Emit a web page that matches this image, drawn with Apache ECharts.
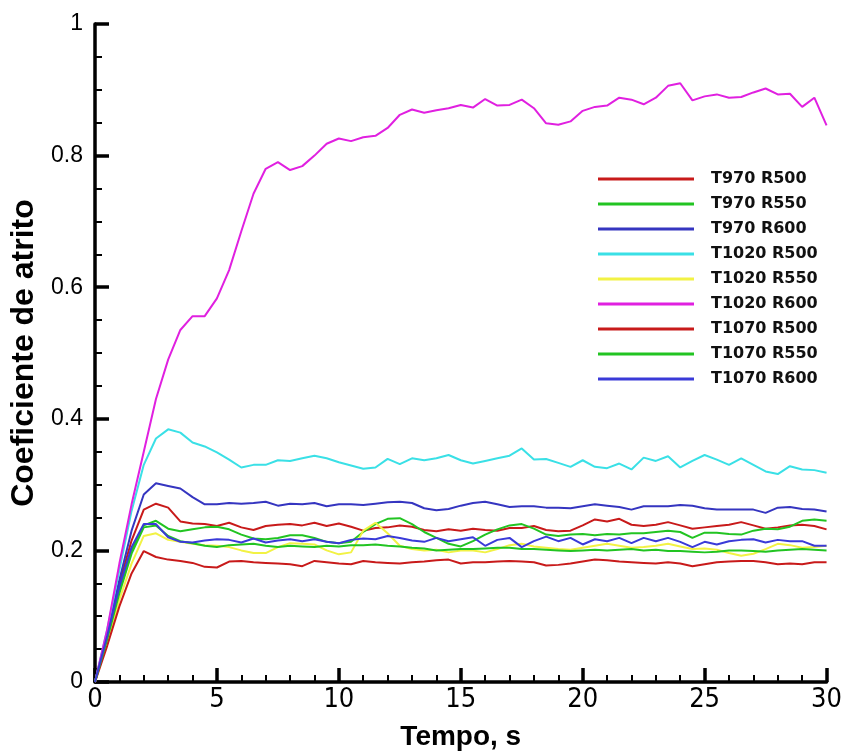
<!DOCTYPE html>
<html>
<head>
<meta charset="utf-8">
<script src="https://cdn.jsdelivr.net/npm/echarts@6/dist/echarts.min.js"></script>
<style>
html,body{margin:0;padding:0;background:#fff;}
#chart{width:845px;height:756px;}
</style>
</head>
<body>
<div id="chart"></div>
<script>
const time = [0,0.5,1,1.5,2,2.5,3,3.5,4,4.5,5,5.5,6,6.5,7,7.5,8,8.5,9,9.5,10,10.5,11,11.5,12,12.5,13,13.5,14,14.5,15,15.5,16,16.5,17,17.5,18,18.5,19,19.5,20,20.5,21,21.5,22,22.5,23,23.5,24,24.5,25,25.5,26,26.5,27,27.5,28,28.5,29,29.5,30];

const seriesNames = ['T970 R500','T970 R550','T970 R600','T1020 R500','T1020 R550','T1020 R600','T1070 R500','T1070 R550','T1070 R600'];

const T970_R500 = [0,0.07,0.15,0.215,0.262,0.271,0.265,0.244,0.241,0.24,0.237,0.242,0.235,0.231,0.237,0.239,0.24,0.238,0.242,0.237,0.241,0.236,0.23,0.234,0.235,0.238,0.236,0.231,0.229,0.232,0.23,0.233,0.231,0.23,0.234,0.234,0.237,0.231,0.229,0.23,0.238,0.247,0.244,0.248,0.239,0.237,0.239,0.243,0.238,0.233,0.235,0.237,0.239,0.243,0.238,0.233,0.235,0.238,0.239,0.237,0.232];

const T970_R550 = [0,0.065,0.14,0.2,0.238,0.245,0.233,0.229,0.232,0.235,0.236,0.232,0.224,0.218,0.217,0.219,0.223,0.223,0.219,0.213,0.211,0.213,0.228,0.24,0.248,0.249,0.24,0.228,0.219,0.21,0.206,0.214,0.224,0.232,0.238,0.24,0.233,0.224,0.222,0.224,0.225,0.223,0.225,0.224,0.226,0.226,0.228,0.23,0.228,0.219,0.227,0.227,0.225,0.224,0.23,0.233,0.232,0.236,0.245,0.247,0.245];

const T970_R600 = [0,0.075,0.155,0.23,0.285,0.302,0.298,0.294,0.281,0.27,0.27,0.272,0.271,0.272,0.274,0.268,0.271,0.27,0.272,0.267,0.27,0.27,0.269,0.271,0.273,0.274,0.272,0.264,0.261,0.263,0.268,0.272,0.274,0.27,0.266,0.267,0.267,0.265,0.265,0.264,0.267,0.27,0.268,0.266,0.262,0.267,0.267,0.267,0.269,0.268,0.264,0.262,0.262,0.262,0.262,0.257,0.265,0.266,0.263,0.262,0.259];

const T1020_R500 = [0,0.08,0.17,0.26,0.33,0.37,0.384,0.379,0.364,0.358,0.349,0.338,0.326,0.33,0.33,0.337,0.336,0.34,0.344,0.34,0.334,0.329,0.324,0.326,0.339,0.331,0.34,0.337,0.34,0.345,0.337,0.332,0.336,0.34,0.344,0.355,0.338,0.339,0.333,0.327,0.337,0.327,0.325,0.332,0.323,0.341,0.336,0.343,0.326,0.336,0.345,0.338,0.33,0.34,0.33,0.32,0.316,0.328,0.323,0.322,0.318];

const T1020_R550 = [0,0.06,0.125,0.18,0.222,0.226,0.216,0.213,0.21,0.208,0.207,0.205,0.2,0.196,0.196,0.205,0.211,0.21,0.209,0.2,0.194,0.197,0.23,0.242,0.226,0.207,0.202,0.2,0.201,0.197,0.2,0.2,0.197,0.202,0.208,0.21,0.206,0.204,0.202,0.201,0.204,0.207,0.21,0.207,0.204,0.205,0.207,0.21,0.206,0.202,0.203,0.201,0.196,0.192,0.195,0.202,0.21,0.208,0.204,0.205,0.207];

const T1020_R600 = [0,0.08,0.18,0.27,0.35,0.43,0.49,0.535,0.556,0.556,0.583,0.626,0.685,0.742,0.78,0.79,0.778,0.784,0.8,0.818,0.826,0.822,0.828,0.83,0.842,0.862,0.87,0.865,0.869,0.872,0.877,0.873,0.886,0.876,0.877,0.885,0.872,0.849,0.847,0.852,0.868,0.874,0.876,0.888,0.885,0.878,0.888,0.906,0.91,0.884,0.89,0.893,0.888,0.889,0.896,0.902,0.893,0.894,0.874,0.888,0.846];

const T1070_R500 = [0,0.055,0.115,0.165,0.199,0.19,0.186,0.184,0.181,0.175,0.174,0.183,0.184,0.182,0.181,0.18,0.179,0.176,0.184,0.182,0.18,0.179,0.184,0.182,0.181,0.18,0.182,0.183,0.185,0.186,0.18,0.182,0.182,0.183,0.184,0.183,0.182,0.177,0.178,0.18,0.183,0.186,0.185,0.183,0.182,0.181,0.18,0.182,0.18,0.176,0.179,0.182,0.183,0.184,0.184,0.182,0.179,0.18,0.179,0.182,0.182];

const T1070_R550 = [0,0.065,0.135,0.195,0.235,0.238,0.222,0.214,0.211,0.207,0.205,0.208,0.209,0.21,0.207,0.205,0.207,0.206,0.205,0.207,0.206,0.208,0.208,0.209,0.207,0.206,0.204,0.203,0.2,0.201,0.202,0.202,0.203,0.204,0.204,0.202,0.202,0.201,0.2,0.199,0.2,0.201,0.2,0.201,0.202,0.2,0.201,0.199,0.199,0.198,0.197,0.198,0.2,0.2,0.199,0.198,0.2,0.201,0.202,0.201,0.2];

const T1070_R600 = [0,0.07,0.145,0.205,0.24,0.24,0.22,0.213,0.212,0.215,0.217,0.216,0.212,0.218,0.212,0.215,0.217,0.214,0.217,0.213,0.211,0.216,0.218,0.217,0.222,0.219,0.215,0.213,0.219,0.214,0.217,0.22,0.207,0.216,0.219,0.205,0.214,0.221,0.214,0.219,0.209,0.217,0.214,0.219,0.211,0.219,0.214,0.219,0.213,0.205,0.213,0.209,0.214,0.216,0.217,0.212,0.216,0.214,0.214,0.207,0.207];

const allValues = [T970_R500,T970_R550,T970_R600,T1020_R500,T1020_R550,T1020_R600,T1070_R500,T1070_R550,T1070_R600];
const colors = ['#c81a1a','#22c422','#3535c0','#3ae0e6','#f2f244','#e020e0','#c81a1a','#22c422','#3a3ad8'];

const chart = echarts.init(document.getElementById('chart'), null, {renderer:'canvas'});

const series = seriesNames.map((name, k) => ({
  name: name,
  type: 'line',
  symbol: 'none',
  showSymbol: false,
  smooth: false,
  animation: false,
  lineStyle: {color: colors[k], width: 2},
  itemStyle: {color: colors[k]},
  data: time.map((t, i) => [t, allValues[k][i]])
}));

chart.setOption({
  backgroundColor: '#ffffff',
  animation: false,
  grid: {left: 95, right: 16, top: 24, bottom: 71, containLabel: false},
  legend: {
    orient: 'vertical',
    left: 598,
    top: 166.5,
    padding: 0,
    icon: 'rect',
    itemWidth: 96,
    itemHeight: 3,
    itemGap: 0,
    textStyle: {fontFamily: 'DejaVu Sans', fontWeight: 'bold', fontSize: 16, lineHeight: 25, color: '#111', padding: [0,0,0,12]},
    data: seriesNames.map((n, k) => ({name: n, itemStyle: {color: colors[k]}}))
  },
  xAxis: {
    type: 'value',
    min: 0, max: 30, interval: 5,
    name: 'Tempo, s',
    nameLocation: 'middle',
    nameGap: 41,
    nameTextStyle: {fontFamily: 'Liberation Sans', fontWeight: 'bold', fontSize: 28, color: '#000'},
    axisLine: {show: true, onZero: false, lineStyle: {color: '#000', width: 3.5}},
    axisTick: {show: true, inside: true, length: 14, lineStyle: {color: '#000', width: 3.5}},
    minorTick: {show: true, splitNumber: 5, length: 7, lineStyle: {color: '#000', width: 2}},
    axisLabel: {margin: 4, fontFamily: '"Liberation Sans Narrow", "DejaVu Sans Condensed", "Liberation Sans"', fontSize: 27, color: '#000'},
    splitLine: {show: false}
  },
  yAxis: {
    type: 'value',
    min: 0, max: 1, interval: 0.2,
    name: 'Coeficiente de atrito',
    nameLocation: 'middle',
    nameGap: 54,
    nameTextStyle: {fontFamily: 'Liberation Sans', fontWeight: 'bold', fontSize: 32, color: '#000'},
    axisLine: {show: true, onZero: false, lineStyle: {color: '#000', width: 3.5}},
    axisTick: {show: true, inside: true, length: 14, lineStyle: {color: '#000', width: 3.5}},
    minorTick: {show: true, splitNumber: 4, length: 7, lineStyle: {color: '#000', width: 2}},
    axisLabel: {margin: 12, fontFamily: 'Liberation Sans', fontSize: 23, color: '#000'},
    splitLine: {show: false}
  },
  series: series
});
</script>
</body>
</html>
